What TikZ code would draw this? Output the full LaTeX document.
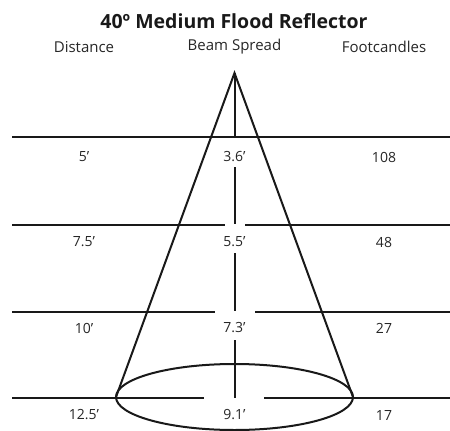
\documentclass[tikz,border=0pt]{standalone}
\usepackage{fontspec}
\setmainfont{Open Sans}
\begin{document}
\begin{tikzpicture}[x=1pt,y=-1pt,
  rule/.style={line width=2pt,black!90},
  lbl/.style={font=\fontsize{14}{16}\selectfont,text=black!85,inner sep=0pt,anchor=center},
  hdr/.style={font=\fontsize{15}{18}\selectfont,text=black!85,inner sep=0pt,anchor=center},
  ttl/.style={font=\bfseries\fontsize{19.5}{22}\selectfont,text=black!90,inner sep=0pt}]
\useasboundingbox (0,0) rectangle (450,431);
% title and headers
\node[ttl] (title) at (234,21) {40º Medium Flood Reflector};
\node[hdr] (hdist) at (84,47) {Distance};
\node[hdr] (hbeam) at (234.5,47) {Beam Spread};
\node[hdr] (hfc) at (384,47) {Footcandles};
% key coordinates
\coordinate (apex) at (234.5,73);
\coordinate (cl) at (116,397);
\coordinate (cr) at (353,397);
% horizontal rules
\draw[rule] (12,137) -- (450,137);
\draw[rule] (12,225) -- (225,225) (245,225) -- (450,225);
\draw[rule] (12,312) -- (215,312) (255,312) -- (450,312);
\draw[rule] (12,398) -- (204,398) (264,398) -- (450,398);
% centre axis
\draw[rule] (apex) -- (234.5,137);
\draw[rule] (234.5,167) -- (234.5,224);
\draw[rule] (234.5,253) -- (234.5,311);
\draw[rule] (234.5,340) -- (234.5,398);
% cone
\draw[rule,line join=miter] (cl) -- (apex) -- (cr);
\draw[rule] (234.5,397) ellipse [x radius=118.5, y radius=33];
% values
\node[lbl] (d1) at (84,157) {5’};
\node[lbl] (b1) at (234.5,157) {3.6’};
\node[lbl] (f1) at (384,157) {108};
\node[lbl] (d2) at (84,242) {7.5’};
\node[lbl] (b2) at (234.5,242) {5.5’};
\node[lbl] (f2) at (384,242) {48};
\node[lbl] (d3) at (84,328) {10’};
\node[lbl] (b3) at (234.5,328) {7.3’};
\node[lbl] (f3) at (384,328) {27};
\node[lbl] (d4) at (84,415) {12.5’};
\node[lbl] (b4) at (234.5,415) {9.1’};
\node[lbl] (f4) at (384,415) {17};
\end{tikzpicture}
\end{document}
